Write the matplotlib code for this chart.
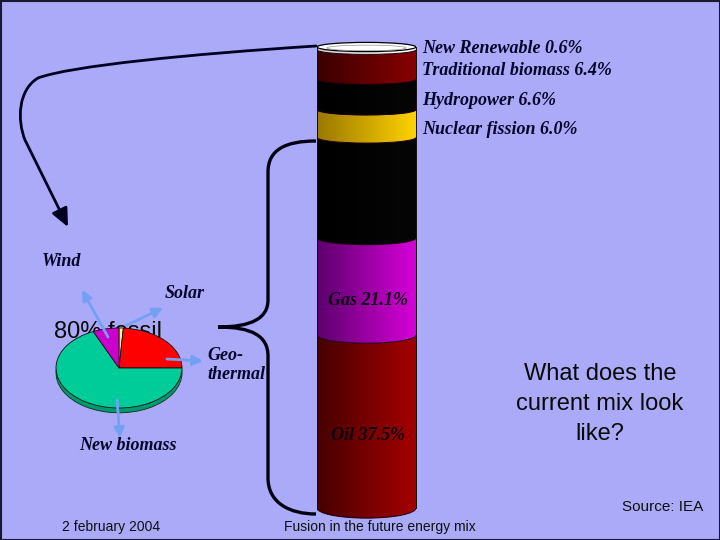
import numpy as np
import matplotlib
matplotlib.use("Agg")
import matplotlib.pyplot as plt
from matplotlib.patches import Ellipse, Arc, FancyArrowPatch, PathPatch, Rectangle
from matplotlib.path import Path
from matplotlib.colors import LinearSegmentedColormap

# ---------------- data ----------------
sources = ["Oil", "Gas", "Coal", "Nuclear fission", "Hydropower",
           "Traditional biomass", "New Renewable"]
shares = [37.5, 21.1, 21.8, 6.0, 6.6, 6.4, 0.6]
inside_labelled = ["Oil", "Gas"]
outside_labelled = ["New Renewable", "Traditional biomass", "Hydropower", "Nuclear fission"]

renew_names = ["Solar", "Geothermal", "New biomass", "Wind"]
renew_shares = [1.1, 23.9, 68.3, 6.7]
pie_title = "80% fossil"
question = ["What does the", "current mix look", "like?"]
footer_left = "2 february 2004"
footer_mid = "Fusion in the future energy mix"
source_txt = "Source: IEA"

# ---------------- style ----------------
BG = "#aaaaf8"
seg_cols = {
    "Oil": ("#460000", "#a40000"),
    "Gas": ("#5c006c", "#d600d8"),
    "Coal": ("#000000", "#050505"),
    "Nuclear fission": ("#9a7800", "#ffd200"),
    "Hydropower": ("#000000", "#050505"),
    "Traditional biomass": ("#3a0000", "#880000"),
    "New Renewable": ("#cfcfcf", "#ffffff"),
}
pie_cols = {"Solar": "#ffff66", "Geothermal": "#ff0000",
            "New biomass": "#00cc99", "Wind": "#cc00cc"}
pie_shadow = {"Solar": "#b0b040", "Geothermal": "#a00000",
              "New biomass": "#009a72", "Wind": "#880088"}
SERIF = dict(family="Liberation Serif", weight="bold", style="italic")
SANS = "Liberation Sans"
LBL = "#06062a"

W, H = 720, 540
fig = plt.figure(figsize=(7.2, 5.4), dpi=100, facecolor=BG)

# background overlay (pixel coordinates)
bg = fig.add_axes([0, 0, 1, 1], zorder=0)
bg.set_xlim(0, W); bg.set_ylim(H, 0); bg.axis("off")
bg.patch.set_alpha(0)

# ---------------- cylinder ----------------
axc = fig.add_axes([317 / W, 1 - 525 / H, 99 / W, 485 / H], zorder=1)
axc.axis("off")
axc.patch.set_alpha(0)
grad = np.linspace(0, 1, 256).reshape(1, -1)

def ry_at(v):
    return 1.0 + 1.2 * (1 - v / 100.0)

cum = np.concatenate([[0.0], np.cumsum(shares)])
for i, (name, val) in enumerate(zip(sources, shares)):
    lo, hi = cum[i], cum[i + 1]
    z = 2 + 2 * i
    c0, c1 = seg_cols[name]
    cmap = LinearSegmentedColormap.from_list(name, [c0, c1])
    rect = axc.bar(0.5, val, bottom=lo, width=1.0, color=c1,
                   edgecolor="none", zorder=z)[0]
    ry = ry_at(lo)
    ell = Ellipse((0.5, lo), 1.0, 2 * ry, facecolor=c1, edgecolor="none", zorder=z)
    axc.add_patch(ell)
    for clip in (rect, ell):
        im = axc.imshow(grad, cmap=cmap, extent=[0, 1, lo - ry - 0.5, hi + 0.5],
                        aspect="auto", zorder=z + 0.5, interpolation="bilinear")
        im.set_clip_path(clip)
    axc.add_patch(Arc((0.5, lo), 1.0, 2 * ry, theta1=180, theta2=360,
                      color="#1a0010", lw=0.7, zorder=z + 1))

# top face
top = cum[-1]
axc.add_patch(Ellipse((0.5, top), 1.0, 2 * ry_at(top), facecolor="white",
                      edgecolor="black", lw=0.9, zorder=40))
axc.add_patch(Ellipse((0.5, top - 0.2), 0.8, 1.2 * ry_at(top), facecolor="none",
                      edgecolor="#909090", lw=0.5, zorder=41))
for xs in (0.0, 1.0):
    axc.plot([xs, xs], [0, top], color="#101010", lw=0.7, zorder=39, clip_on=False)

axc.set_xlim(0, 1)
axc.set_ylim(-3.69, 101.52)

# labels
for name in inside_labelled:
    i = sources.index(name)
    mid = (cum[i] + cum[i + 1]) / 2 - 3.0
    axc.text(0.52, mid, f"{name} {shares[i]}%", ha="center", va="center",
             fontsize=13, color="#0a000e", zorder=50, **SERIF)
for name in outside_labelled:
    i = sources.index(name)
    mid = (cum[i] + cum[i + 1]) / 2
    if name != "New Renewable":
        mid -= 1.3
    axc.text(1.06, mid, f"{name} {shares[i]}%", ha="left", va="center",
             fontsize=13, color=LBL, zorder=50, clip_on=False, **SERIF)

# ---------------- pie ----------------
bg.text(54, 338, pie_title, fontsize=17, family=SANS, color="#0a0a0a",
        ha="left", va="baseline")
axp = fig.add_axes([56 / W, 1 - 414 / H, 126 / W, 86 / H], zorder=2)
axp.pie(renew_shares, colors=[pie_shadow[n] for n in renew_names], startangle=90,
        counterclock=False, radius=1.0, center=(0, -0.12),
        wedgeprops=dict(edgecolor="#0a300a", linewidth=0.6))
axp.pie(renew_shares, colors=[pie_cols[n] for n in renew_names], startangle=90,
        counterclock=False, radius=1.0, center=(0, 0),
        wedgeprops=dict(edgecolor="#101010", linewidth=0.6))
axp.set_aspect("auto")
axp.set_xlim(-1.0, 1.0)
axp.set_ylim(-1.15, 1.0)
axp.axis("off")

# ---------------- top overlay ----------------
ov = fig.add_axes([0, 0, 1, 1], zorder=5)
ov.set_xlim(0, W); ov.set_ylim(H, 0); ov.axis("off")
ov.patch.set_alpha(0)

# long arrow from top of cylinder to "Wind"
verts = [(316, 46), (190, 54), (70, 66), (38, 78),
         (18, 90), (17, 120), (25, 140),
         (68, 227)]
codes = [Path.MOVETO, Path.CURVE4, Path.CURVE4, Path.CURVE4,
         Path.CURVE4, Path.CURVE4, Path.CURVE4, Path.LINETO]
ov.add_patch(FancyArrowPatch(path=Path(verts, codes),
                             arrowstyle="-|>,head_length=0.55,head_width=0.25",
                             mutation_scale=20, color="#000020", lw=2.0))

# brace
bverts = [(316, 141), (285, 141), (268, 150), (268, 172),
          (268, 300),
          (268, 318), (252, 327), (218, 327),
          (252, 327), (268, 336), (268, 356),
          (268, 478),
          (268, 503), (290, 514), (316, 514)]
bcodes = [Path.MOVETO, Path.CURVE4, Path.CURVE4, Path.CURVE4,
          Path.LINETO,
          Path.CURVE4, Path.CURVE4, Path.CURVE4,
          Path.CURVE4, Path.CURVE4, Path.CURVE4,
          Path.LINETO,
          Path.CURVE4, Path.CURVE4, Path.CURVE4]
ov.add_patch(PathPatch(Path(bverts, bcodes), facecolor="none",
                       edgecolor="#000010", lw=2.4, zorder=3))

# renewables labels and light-blue arrows
lab_pos = {"Wind": (42, 262, "left"), "Solar": (165, 293, "left"),
           "Geothermal": (207, 365, "left"), "New biomass": (128, 445, "center")}
lab_text = {"Wind": "Wind", "Solar": "Solar", "Geothermal": "Geo-\nthermal",
            "New biomass": "New biomass"}
arrows = {"Wind": ((108, 337), (82, 290)), "Solar": ((127, 325), (163, 308)),
          "Geothermal": ((167, 359), (203, 361)),
          "New biomass": ((117, 400), (120, 438))}
for n in renew_names:
    x, y, ha = lab_pos[n]
    ov.text(x, y, lab_text[n], ha=ha, va="center", fontsize=13, color=LBL,
            linespacing=1.1, **SERIF)
    (x0, y0), (x1, y1) = arrows[n]
    ov.annotate("", xy=(x1, y1), xytext=(x0, y0),
                arrowprops=dict(arrowstyle="-|>,head_length=0.5,head_width=0.25",
                                color="#74a0f4", lw=2.0, mutation_scale=12,
                                shrinkA=0, shrinkB=0))

# question text
for k, line in enumerate(question):
    ov.text(600, 374 + 30 * k, line, ha="center", va="center", fontsize=17,
            family=SANS, color="#0a0a0a")

# footer
ov.text(703, 507, source_txt, ha="right", va="center", fontsize=11,
        family=SANS, color="#101010")
ov.text(62, 527, footer_left, ha="left", va="center", fontsize=10,
        family=SANS, color="#101010")
ov.text(380, 527, footer_mid, ha="center", va="center", fontsize=10,
        family=SANS, color="#101010")

# frame
ov.add_patch(Rectangle((0.5, 0.5), W - 1, H - 1, facecolor="none",
                       edgecolor="#181830", lw=1.5, clip_on=False))

fig.savefig("out.png", dpi=100, facecolor=BG)
